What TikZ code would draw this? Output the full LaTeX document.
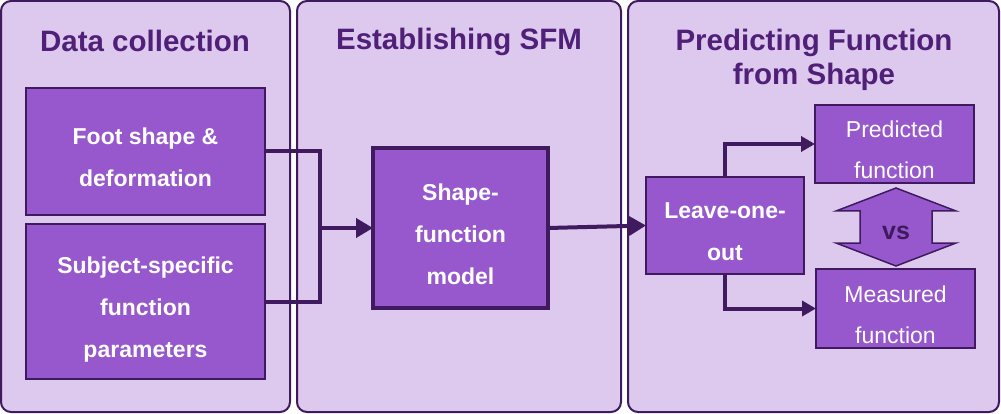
\documentclass[tikz,border=0pt]{standalone}
\usepackage{fontspec}
\setmainfont{Liberation Sans}
\usetikzlibrary{arrows.meta}
\definecolor{lavender}{RGB}{221,201,238}
\definecolor{boxpurple}{RGB}{150,88,204}
\definecolor{darkpurple}{RGB}{64,26,94}
\definecolor{titlepurple}{RGB}{80,32,120}
\newcommand{\boxlines}[1]{\raisebox{-6pt}[\dimexpr\height-4pt\relax][\dimexpr\depth-4pt\relax]{\begin{tabular}{@{}c@{}}#1\end{tabular}}}
\tikzset{
  panel/.style={draw=darkpurple, fill=lavender, line width=2pt, rounded corners=10pt},
  paneltitle/.style={text=titlepurple, font=\bfseries\fontsize{29.5}{34}\selectfont, align=center},
  databox/.style={draw=darkpurple, fill=boxpurple, line width=1.2pt, text=white,
    font=\bfseries\fontsize{23}{42}\selectfont, inner sep=0pt, outer sep=0pt},
  funcbox/.style={databox, font=\fontsize{23}{41}\selectfont},
  link/.style={draw=darkpurple, line width=4pt},
  tip/.style={-{Triangle[length=17pt,width=19pt]}},
  smalltip/.style={-{Triangle[length=14pt,width=15pt]}}
}
\begin{document}
\begin{tikzpicture}[x=1pt, y=-1pt]
    \useasboundingbox (0,0) rectangle (1001,414);
    \draw[panel] (1,1) rectangle (290,412);
    \draw[panel] (297,1) rectangle (621,412);
    \draw[panel] (628,1) rectangle (999,412);
    \node[paneltitle, anchor=base] (collect) at (145,51.5) {Data collection};
    \node[paneltitle, anchor=base] (establish) at (459,50) {Establishing SFM};
    \node[paneltitle] (predict) at (814,60) {Predicting Function\\from Shape};
    \node[databox, minimum width=239pt, minimum height=127pt] (foot) at (145.5,151.5)
        {\boxlines{Foot shape \&\\deformation}};
    \node[databox, minimum width=239pt, minimum height=155pt] (subject) at (145.5,301.5)
        {\boxlines{Subject-specific\\function\\parameters}};
    \node[databox, line width=4pt, minimum width=175pt, minimum height=160pt] (sfm) at (460.5,228)
        {\boxlines{Shape-\\function\\model}};
    \node[databox, minimum width=158pt, minimum height=97pt] (loo) at (725,225.5)
        {\boxlines{Leave-one-\\out}};
    \node[funcbox, minimum width=159pt, minimum height=78pt] (predicted) at (894.5,144)
        {\boxlines{Predicted\\function}};
    \node[funcbox, minimum width=159pt, minimum height=79pt] (measured) at (895.5,308.5)
        {\boxlines{Measured\\function}};
    \coordinate (join) at (320,228);
    \draw[link, line join=miter] (foot.east) -| (join) |- (subject.east);
    \draw[link, tip] (join) -- (sfm.west);
    \draw[link, tip] (sfm.east) -- (loo.west);
    \draw[link, smalltip] (loo.north) |- (predicted.west);
    \draw[link, smalltip] (loo.south) |- (measured.west);
    \draw[draw=darkpurple, fill=boxpurple, line width=1.5pt, line join=miter]
        (896,188) -- (956,211) -- (932,211) -- (932,243) -- (956,243) -- (896,266)
        -- (836,243) -- (860,243) -- (860,211) -- (836,211) -- cycle;
    \node[text=darkpurple, font=\bfseries\fontsize{25}{30}\selectfont] (vs) at (896,233) {vs};
\end{tikzpicture}
\end{document}
